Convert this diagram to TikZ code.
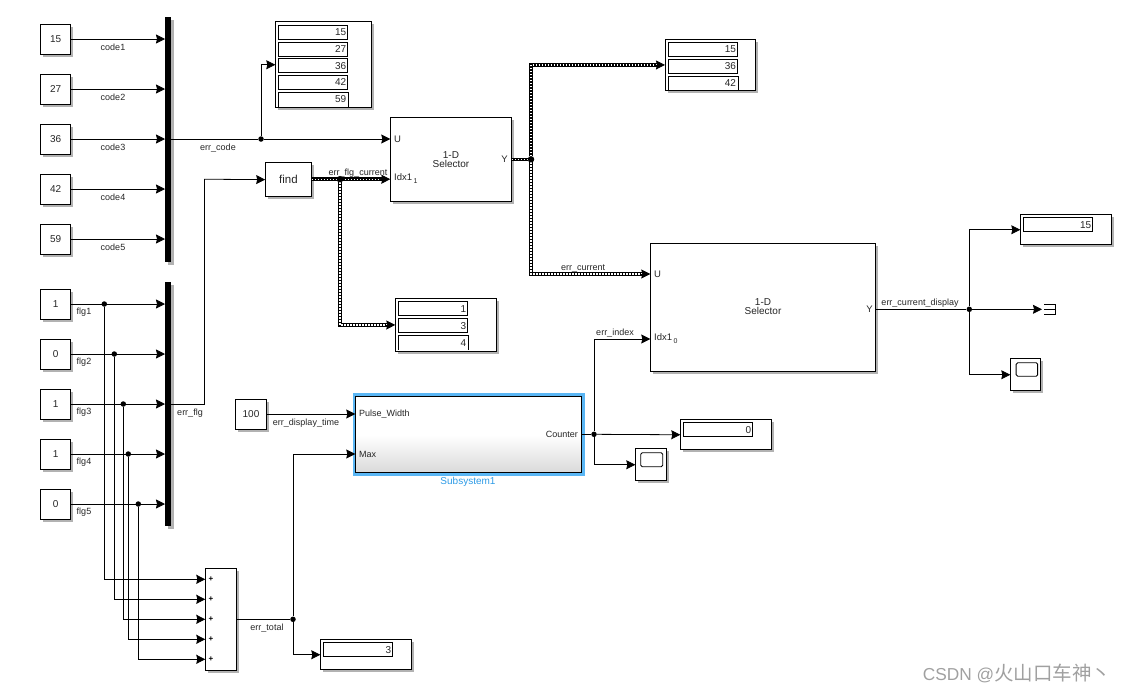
\documentclass[tikz,border=0pt]{standalone}
\usepackage{fontspec,xcolor}
\setmainfont{Liberation Sans}
\newfontfamily\cjk{Noto Sans CJK SC}
\usetikzlibrary{arrows.meta,positioning,calc,shadows}
\definecolor{hilite}{HTML}{5AB6F4}
\definecolor{subname}{HTML}{2E9BE6}
\definecolor{ink}{HTML}{262626}
\definecolor{mark}{HTML}{A0A0A0}
\pgfdeclareverticalshading{subsys}{100bp}{color(0bp)=(black!15); color(25bp)=(black!15); color(50bp)=(white); color(100bp)=(white)}
\newcommand{\subidx}[1]{\hspace{1.5pt}\raisebox{-3.5pt}{\fontsize{7}{7}\selectfont #1}}
\tikzset{blk/.style={draw=black,fill=white,line width=.9pt,anchor=north west,inner sep=0pt,text=ink,font=\fontsize{10}{11}\selectfont,drop shadow={shadow xshift=2.5pt,shadow yshift=-2.5pt,opacity=.3,fill=black}},cell/.style={anchor=north west,draw=black,fill=white,line width=.9pt,inner sep=1.5pt,minimum height=14pt,text width=66pt,align=right,text=ink,font=\fontsize{10}{11}\selectfont},opencell/.style={cell,draw=none,fill=none},wire/.style={-{Stealth[length=9pt,width=9pt,inset=1pt]},line width=.8pt,draw=black},line/.style={line width=.8pt,draw=black},bus/.style={line width=3.6pt,draw=black,postaction={draw=white,line width=1.2pt,dash pattern=on 1.4pt off 1.6pt}},dot/.style={circle,fill=black,inner sep=0pt,minimum size=5.5pt},lbl/.style={inner sep=0pt,text=ink,font=\fontsize{9}{10}\selectfont},port/.style={lbl,font=\fontsize{9.5}{10}\selectfont},bar/.style={fill=black,anchor=north west,inner sep=0pt,minimum width=6pt,drop shadow={shadow xshift=2.5pt,shadow yshift=-2.5pt,opacity=.3,fill=black}},scopescreen/.style={draw=black,line width=.9pt,rounded corners=1.5pt,anchor=north west,inner sep=0pt}}
\begin{document}
\begin{tikzpicture}[x=1pt,y=-1pt]
\useasboundingbox (0,0) rectangle (1123,691);
\node[bar,minimum height=245pt] (mux1) at (165,17) {};
\node[bar,minimum height=244pt] (mux2) at (165,282) {};
\node[blk,minimum width=30.5pt,minimum height=102pt] (sum) at (205.3,568.3) {};
\foreach \n/\yy/\val in {code1/39/15,code2/89/27,code3/139/36,code4/189/42,code5/239/59}{\node[blk,minimum size=30pt,anchor=center] (\n) at (55.7,\yy) {\val};
\draw[wire] (\n.east)--(\n -| mux1.west);
\node[lbl] (lab\n) at (113,\yy+8) {\n};}
\foreach \n/\yy/\val/\xx/\ss in {flg1/304/1/104.3/579.3,flg2/354/0/114.3/599.3,flg3/404/1/123.3/619.3,flg4/454/1/128.3/639.3,flg5/504/0/138.3/659.3}{\node[blk,minimum size=30pt,anchor=center] (\n) at (55.7,\yy) {\val};
\draw[wire] (\n.east)--(\n -| mux2.west);
\node[lbl] (lab\n) at (84,\yy+8.5) {\n};
\node[dot] (j\n) at (\xx,\yy) {};
\coordinate (p\n) at (205.3,\ss);
\draw[wire] (j\n) |- (p\n);
\node[inner sep=0pt,font=\fontsize{8}{8}\selectfont\bfseries] (plus\n) at (211,\ss) {+};}
\node[blk,minimum width=95.4pt,minimum height=86pt] (disp1) at (275.3,21.3) {};
\foreach \n/\yy/\val in {a/24.7/15,b/41.5/27,c/58.2/36,d/75/42}{\node[cell] (cell1\n) at (278.3,\yy) {\val};}
\node[opencell] (cell1e) at (278.3,92) {59};
\draw[line] (cell1e.south west)--(cell1e.north west)--(cell1e.north east)--(cell1e.south east);
\node[blk,minimum width=45.5pt,minimum height=34pt,font=\fontsize{11.5}{12}\selectfont] (find) at (265.2,162.2) {find};
\node[blk,minimum width=120.4pt,minimum height=84pt,align=center,font=\fontsize{10}{9}\selectfont] (sel1) at (390.3,117.3) {1-D\\[-.5pt]Selector};
\node[port,anchor=west] (sel1u) at (394,139) {U};
\node[port,anchor=west] (sel1i) at (394,178.5) {Idx1\subidx{1}};
\node[port,anchor=east] (sel1y) at (508,159) {Y};
\node[blk,minimum width=100.4pt,minimum height=52.4pt] (disp2) at (395.3,298.3) {};
\foreach \n/\yy/\val in {a/301.3/1,b/318.3/3}{\node[cell] (cell2\n) at (398.3,\yy) {\val};}
\node[opencell] (cell2c) at (398.3,335.3) {4};
\draw[line] (cell2c.south west)--(cell2c.north west)--(cell2c.north east)--(cell2c.south east);
\node[blk,minimum width=90.4pt,minimum height=51pt] (disp3) at (665,39) {};
\foreach \n/\yy/\val in {a/42/15,b/59/36}{\node[cell] (cell3\n) at (668,\yy) {\val};}
\node[opencell] (cell3c) at (668,76) {42};
\draw[line] (cell3c.south west)--(cell3c.north west)--(cell3c.north east)--(cell3c.south east);
\node[blk,minimum width=225pt,minimum height=127.5pt] (sel2) at (650.3,243.2) {};
\node[inner sep=0pt,align=center,text=ink,font=\fontsize{10}{9}\selectfont] (sel2t) at (763,306.5) {1-D\\[-.5pt]Selector};
\node[port,anchor=west] (sel2u) at (654,274) {U};
\node[port,anchor=west] (sel2i) at (654,338.5) {Idx1\subidx{0}};
\node[port,anchor=east] (sel2y) at (873,309.5) {Y};
\node[blk,minimum width=90.4pt,minimum height=30pt] (disp4) at (1020.3,214.3) {};
\node[cell] (cell4) at (1023.3,217.3) {15};
\node[blk,minimum width=30pt,minimum height=32pt] (scope1) at (1010.3,358.3) {};
\node[scopescreen,minimum width=21.5pt,minimum height=13.5pt] (screen1) at (1015.7,362.3) {};
\node[blk,minimum width=30.4pt,minimum height=30pt,anchor=center] (const) at (251,414) {100};
\node[fill=hilite,anchor=north west,inner sep=0pt,minimum width=232.7pt,minimum height=83.4pt] (hilite) at (352.3,392.3) {};
\node[draw=black,line width=.9pt,shade,shading=subsys,anchor=north west,inner sep=0pt,minimum width=225.4pt,minimum height=76pt] (sub) at (355.3,396.3) {};
\node[lbl,anchor=west] (subw) at (359,414) {Pulse\_Width};
\node[lbl,anchor=west] (subm) at (359,454) {Max};
\node[lbl,anchor=east] (subc) at (578,434) {Counter};
\node[lbl,text=subname,font=\fontsize{10}{11}\selectfont] (subname) at (468,481.5) {Subsystem1};
\node[blk,minimum width=90.4pt,minimum height=30pt] (disp5) at (680.3,419.3) {};
\node[cell] (cell5) at (683.3,422.3) {0};
\node[blk,minimum width=30.4pt,minimum height=32pt] (scope2) at (635.3,448.3) {};
\node[scopescreen,minimum width=22pt,minimum height=14pt] (screen2) at (640.3,452.3) {};
\node[blk,minimum width=90.4pt,minimum height=30pt] (disp6) at (320.3,639.3) {};
\node[cell] (cell6) at (323.3,642.3) {3};
\node[dot] (jcode) at (261,139) {};
\node[dot] (jfind) at (340,179.2) {};
\node[dot] (jsel) at (531,159.3) {};
\node[dot] (jcount) at (594,434.3) {};
\node[dot] (jtotal) at (293,619.3) {};
\node[dot] (jdisp) at (969.3,309.3) {};
\coordinate (inu1) at (390.3,139);
\coordinate (ini1) at (390.3,179.2);
\coordinate (inu2) at (650.3,274);
\coordinate (ini2) at (650.3,339);
\coordinate (outy2) at (875.3,309.3);
\coordinate (inw) at (355.3,414);
\coordinate (inm) at (355.3,454);
\coordinate (term) at (1042,309.3);
\coordinate (bend) at (204,179.2);
\draw[line] (mux1.east |- jcode)--(jcode);
\draw[wire] (jcode)--(inu1);
\draw[wire] (jcode) |- (disp1.west);
\draw[line] (mux2.east |- jflg3)--(bend |- jflg3)--(bend);
\draw[wire] (bend)--(find.west);
\draw[bus] (find.east |- ini1)--([xshift=-6pt]ini1);
\draw[wire] ([xshift=-9pt]ini1)--(ini1);
\draw[bus] (jfind) |- ([xshift=-6pt]disp2.west);
\draw[wire] ([xshift=-9pt]disp2.west)--(disp2.west);
\draw[bus] (sel1.east |- jsel)--(jsel);
\draw[bus] (jsel) |- ([xshift=-6pt]disp3.west);
\draw[wire] ([xshift=-9pt]disp3.west)--(disp3.west);
\draw[bus] (jsel) |- ([xshift=-6pt]inu2);
\draw[wire] ([xshift=-9pt]inu2)--(inu2);
\node[dot,minimum size=6.5pt] (jfindtop) at (jfind) {};
\node[dot,minimum size=6.5pt] (jseltop) at (jsel) {};
\draw[line] (outy2)--(jdisp);
\draw[wire] (jdisp) |- (disp4.west);
\draw[wire] (jdisp)--(term);
\draw[wire] (jdisp) |- (scope1.west);
\draw[line] (1044,304.7)--(1055,304.7)--(1055,314.7)--(1044,314.7) (1044,309.7)--(1055,309.7);
\draw[wire] (const.east)--(inw);
\draw[line] (sub.east |- jcount)--(jcount);
\draw[wire] (jcount)--(disp5.west);
\draw[wire] (jcount) |- (scope2.west);
\draw[wire] (jcount) |- (ini2);
\draw[line] (sum.east |- jtotal)--(jtotal);
\draw[wire] (jtotal) |- (inm);
\draw[wire] (jtotal) |- (disp6.west);
\node[lbl] (labcode) at (218,148) {err\_code};
\node[lbl] (labflg) at (190,413) {err\_flg};
\node[lbl] (labcur) at (358,173) {err\_flg\_current};
\node[lbl] (labsel) at (583,268) {err\_current};
\node[lbl] (labidx) at (615,333) {err\_index};
\node[lbl] (labout) at (920,303) {err\_current\_display};
\node[lbl] (labtime) at (306,423) {err\_display\_time};
\node[lbl] (labtotal) at (267,628) {err\_total};
\node[inner sep=0pt,text=mark,font=\fontsize{17.3}{18}\selectfont] (watermark) at (1017,673) {CSDN @{\fontsize{19.5}{20}\selectfont\cjk 火山口车神丶}};
\end{tikzpicture}
\end{document}
